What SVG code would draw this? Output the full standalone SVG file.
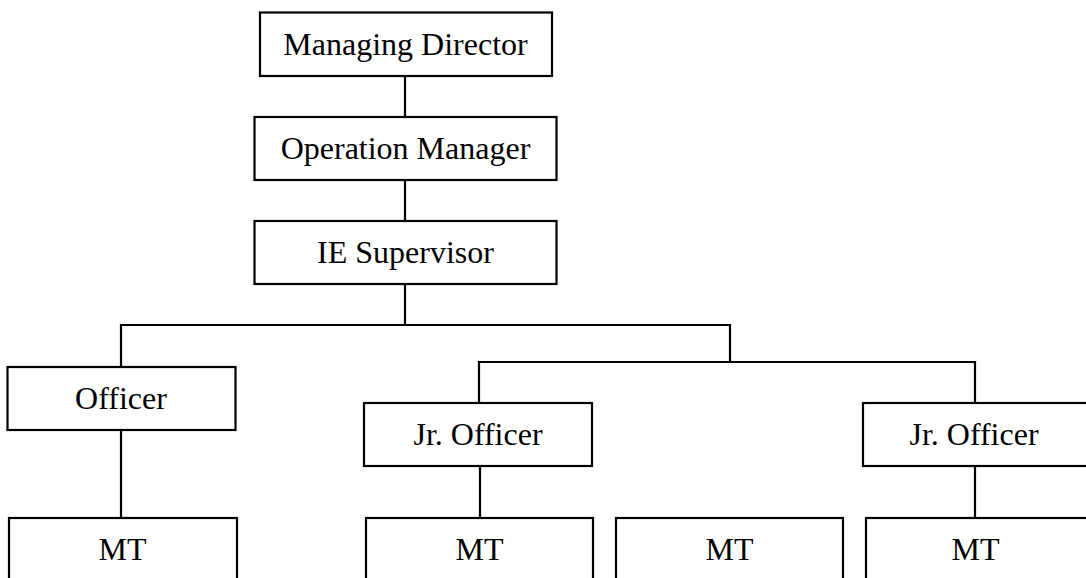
<svg xmlns="http://www.w3.org/2000/svg" width="1086" height="578" viewBox="0 0 1086 578">
  <style>
    .box { fill: #ffffff; stroke: #000000; stroke-width: 2.2; }
    .link { fill: none; stroke: #000000; stroke-width: 2.2; }
    .label { font-family: "Liberation Serif", "Times New Roman", serif; font-size: 32px; fill: #000000; text-anchor: middle; }
  </style>
  <rect width="1086" height="578" fill="#ffffff"/>

  <!-- reporting lines -->
  <g id="connectors">
    <path class="link" d="M405 76 V117"/>
    <path class="link" d="M405 180 V221"/>
    <path class="link" d="M405 284 V325"/>
    <path class="link" d="M121 367 V325 H730 V362"/>
    <path class="link" d="M479 403 V362 H975 V403"/>
    <path class="link" d="M121 430 V518"/>
    <path class="link" d="M480 466 V518"/>
    <path class="link" d="M975 466 V518"/>
  </g>

  <g id="managing-director">
    <rect class="box" x="260" y="12.5" width="292" height="63.5"/>
    <text class="label" x="405.5" y="54.5">Managing Director</text>
  </g>
  <g id="operation-manager">
    <rect class="box" x="254.5" y="117" width="302" height="63"/>
    <text class="label" x="405.5" y="158.5">Operation Manager</text>
  </g>
  <g id="ie-supervisor">
    <rect class="box" x="254.5" y="221" width="302" height="63"/>
    <text class="label" x="405.5" y="263">IE Supervisor</text>
  </g>
  <g id="officer">
    <rect class="box" x="7.5" y="367" width="228" height="63"/>
    <text class="label" x="121" y="409">Officer</text>
  </g>
  <g id="jr-officer-1">
    <rect class="box" x="364" y="403" width="228" height="63"/>
    <text class="label" x="478" y="444.5">Jr. Officer</text>
  </g>
  <g id="jr-officer-2">
    <rect class="box" x="863" y="403" width="240" height="63"/>
    <text class="label" x="974" y="444.5">Jr. Officer</text>
  </g>
  <g id="mt-1">
    <rect class="box" x="9" y="518" width="228" height="80"/>
    <text class="label" x="122.5" y="559.5">MT</text>
  </g>
  <g id="mt-2">
    <rect class="box" x="366" y="518" width="227" height="80"/>
    <text class="label" x="479.5" y="559.5">MT</text>
  </g>
  <g id="mt-3">
    <rect class="box" x="616" y="518" width="227" height="80"/>
    <text class="label" x="729.5" y="559.5">MT</text>
  </g>
  <g id="mt-4">
    <rect class="box" x="866" y="518" width="240" height="80"/>
    <text class="label" x="975.5" y="559.5">MT</text>
  </g>
</svg>
